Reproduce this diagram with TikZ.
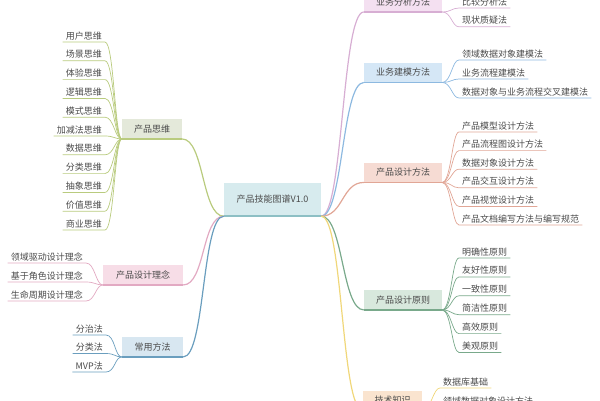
\documentclass[tikz,border=0pt]{standalone}
\usepackage{fontspec}
\newfontfamily\cjk{Noto Sans CJK SC}
\definecolor{txt}{HTML}{4A4A4A}
\definecolor{rootfill}{HTML}{D7EBEE}
\definecolor{rootline}{HTML}{8DBFC4}
\definecolor{thinkfill}{HTML}{E4E9DA}
\definecolor{thinkline}{HTML}{B9CB7E}
\definecolor{ideafill}{HTML}{F7DDE7}
\definecolor{idealine}{HTML}{E2A9C2}
\definecolor{wayfill}{HTML}{D8E7F1}
\definecolor{wayline}{HTML}{6A9EBE}
\definecolor{anafill}{HTML}{F4E0F1}
\definecolor{analine}{HTML}{D7AED3}
\definecolor{modfill}{HTML}{D5E7F6}
\definecolor{modline}{HTML}{8DB9E0}
\definecolor{desfill}{HTML}{F6DBD3}
\definecolor{desline}{HTML}{E1A696}
\definecolor{rulefill}{HTML}{D8E8DD}
\definecolor{ruleline}{HTML}{79A98B}
\definecolor{techfill}{HTML}{FAE4CF}
\definecolor{techline}{HTML}{F0D77A}

\begin{document}
\begin{tikzpicture}[x=1pt,y=-1pt,
  root/.style={fill=rootfill,minimum width=97pt,minimum height=33pt,inner sep=0pt,
    font=\cjk\fontsize{9}{11}\selectfont,text=txt},
  branch/.style={minimum height=19.5pt,inner sep=0pt,font=\cjk\fontsize{9}{11}\selectfont,text=txt},
  leaf/.style={inner xsep=3pt,inner ysep=2pt,font=\cjk\fontsize{9}{11}\selectfont,text=txt},
  link/.style={line width=1.2pt},
  twig/.style={line width=0.7pt},
  bar/.style={line width=1.8pt}]
\useasboundingbox (0,0) rectangle (600,400);
\clip (0,0) rectangle (600,400);

% root
\node[root] (root) at (272.5,199.5) {产品技能图谱V1.0};
\draw[bar,rootline] (root.south west) -- (root.south east);

% left branches
\node[branch,fill=thinkfill,minimum width=60pt] (think) at (152,129) {产品思维};
\node[branch,fill=ideafill,minimum width=80pt] (idea) at (143,275) {产品设计理念};
\node[branch,fill=wayfill,minimum width=61pt] (way) at (152.5,347) {常用方法};

% right branches
\node[branch,fill=anafill,minimum width=78pt] (ana) at (403,2) {业务分析方法};
\node[branch,fill=modfill,minimum width=78pt] (mod) at (403,72.5) {业务建模方法};
\node[branch,fill=desfill,minimum width=78pt] (des) at (403,172.5) {产品设计方法};
\node[branch,fill=rulefill,minimum width=78pt] (rule) at (403,300) {产品设计原则};
\node[branch,fill=techfill,minimum width=59pt] (tech) at (392.5,400.5) {技术知识};

% root links
\draw[link,thinkline] (root.south west) .. controls +(-22,0) and +(22,0) .. (think.south east);
\draw[link,idealine] (root.south west) .. controls +(-22,0) and +(22,0) .. (idea.south east);
\draw[link,wayline] (root.south west) .. controls +(-22,0) and +(22,0) .. (way.south east);
\draw[link,analine] (root.south east) .. controls +(22,0) and +(-22,0) .. (ana.south west);
\draw[link,modline] (root.south east) .. controls +(22,0) and +(-22,0) .. (mod.south west);
\draw[link,desline] (root.south east) .. controls +(22,0) and +(-22,0) .. (des.south west);
\draw[link,ruleline] (root.south east) .. controls +(22,0) and +(-22,0) .. (rule.south west);
\draw[link,techline] (root.south east) .. controls +(22,0) and +(-22,0) .. (tech.south west);

% branch bars
\foreach \b/\c in {think/thinkline,idea/idealine,way/wayline,ana/analine,mod/modline,des/desline,rule/ruleline,tech/techline}
  \draw[bar,\c] (\b.south west) -- (\b.south east);

% leaves, left side
\foreach \t [count=\i] in {用户思维,场景思维,体验思维,逻辑思维,模式思维,加减法思维,数据思维,分类思维,抽象思维,价值思维,商业思维}
{
  \node[leaf,anchor=south east] (th\i) at (105,42+18.8*\i-18.8) {\t};
  \draw[twig,thinkline] (th\i.south west) -- (th\i.south east) .. controls +(9,0) and +(-7,0) .. (think.south west);
}
\foreach \t [count=\i] in {领域驱动设计理念,基于角色设计理念,生命周期设计理念}
{
  \node[leaf,anchor=south east] (id\i) at (86,263+19*\i-19) {\t};
  \draw[twig,idealine] (id\i.south west) -- (id\i.south east) .. controls +(9,0) and +(-7,0) .. (idea.south west);
}
\foreach \t [count=\i] in {分治法,分类法,MVP法}
{
  \node[leaf,anchor=south east] (wy\i) at (106,335+18.5*\i-18.5) {\t};
  \draw[twig,wayline] (wy\i.south west) -- (wy\i.south east) .. controls +(9,0) and +(-7,0) .. (way.south west);
}

% leaves, right side
\foreach \t [count=\i] in {比较分析法,现状质疑法}
{
  \node[leaf,anchor=south west] (an\i) at (459,8+18.8*\i-18.8) {\t};
  \draw[twig,analine] (ana.south east) .. controls +(9,0) and +(-7,0) .. (an\i.south west) -- (an\i.south east);
}
\foreach \t [count=\i] in {领域数据对象建模法,业务流程建模法,数据对象与业务流程交叉建模法}
{
  \node[leaf,anchor=south west] (md\i) at (459,60+19*\i-19) {\t};
  \draw[twig,modline] (mod.south east) .. controls +(9,0) and +(-7,0) .. (md\i.south west) -- (md\i.south east);
}
\foreach \t [count=\i] in {产品模型设计方法,产品流程图设计方法,数据对象设计方法,产品交互设计方法,产品视觉设计方法,产品文档编写方法与编写规范}
{
  \node[leaf,anchor=south west] (ds\i) at (459,132+18.6*\i-18.6) {\t};
  \draw[twig,desline] (des.south east) .. controls +(9,0) and +(-7,0) .. (ds\i.south west) -- (ds\i.south east);
}
\foreach \t [count=\i] in {明确性原则,友好性原则,一致性原则,简洁性原则,高效原则,美观原则}
{
  \node[leaf,anchor=south west] (ru\i) at (459,258+18.9*\i-18.9) {\t};
  \draw[twig,ruleline] (rule.south east) .. controls +(9,0) and +(-7,0) .. (ru\i.south west) -- (ru\i.south east);
}
\foreach \t [count=\i] in {数据库基础,领域数据对象设计方法}
{
  \node[leaf,anchor=south west] (tc\i) at (440,388+19*\i-19) {\t};
  \draw[twig,techline] (tech.south east) .. controls +(9,0) and +(-7,0) .. (tc\i.south west) -- (tc\i.south east);
}
\end{tikzpicture}
\end{document}
